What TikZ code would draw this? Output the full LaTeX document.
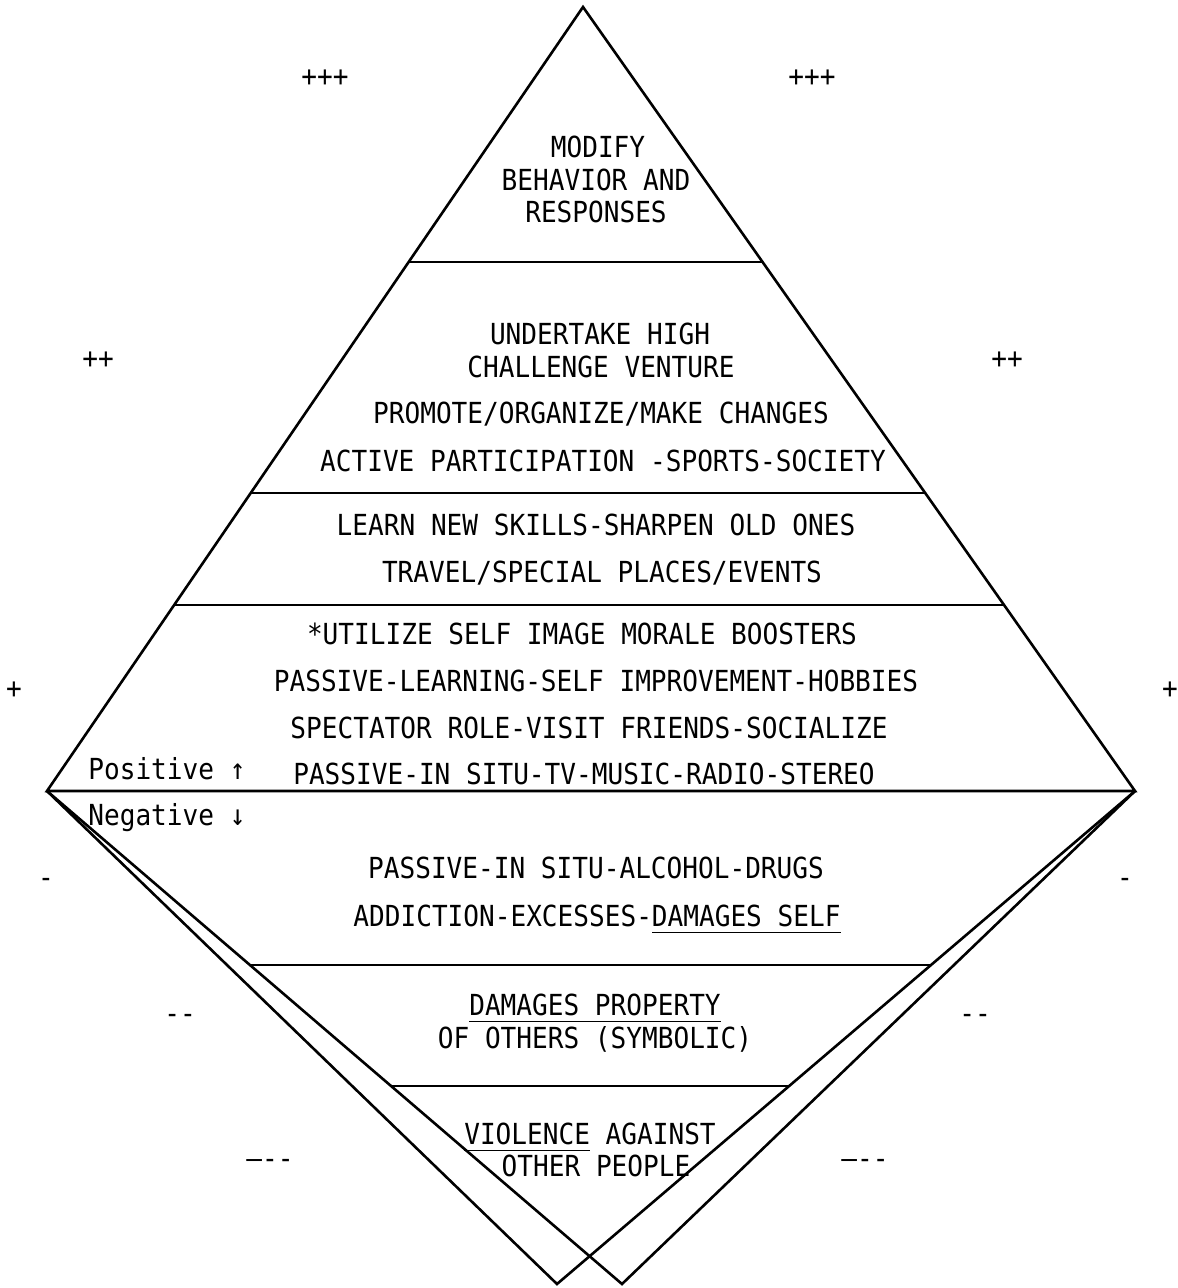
\documentclass[tikz,border=0pt]{standalone}
\usepackage{fontspec}
\newfontfamily\typefont[FakeStretch=0.9,Ligatures=TeXOff]{DejaVu Sans Mono}
\usetikzlibrary{positioning,calc}
\newcommand\lowline[1]{\underline{\rule[-1.8pt]{0pt}{0pt}#1}}
\tikzset{
  level/.style={font=\typefont\fontsize{14.5pt}{16pt}\selectfont, inner sep=0pt, anchor=base},
  sign/.style={level},
  tag/.style={level, anchor=base west},
  edge/.style={line width=1.3pt, line join=miter},
  divider/.style={line width=1.2pt},
}
\begin{document}
\begin{tikzpicture}[x=0.5pt,y=-0.5pt]
  \useasboundingbox (0,0) rectangle (1177,1288);
  % corners of the two pyramids
  \coordinate (apex) at (583,7);
  \coordinate (west) at (47,791);
  \coordinate (east) at (1135,791);
  \coordinate (foot1) at (557,1284);
  \coordinate (foot2) at (622,1284);
  \draw[edge] (west) -- (apex) -- (east) -- cycle;
  \draw[edge] (west) -- (foot1) -- (east);
  \draw[edge] (west) -- (foot2) -- (east);
  % levels
  \foreach \t in {0.3253,0.620,0.763}
    \draw[divider] ($(apex)!\t!(west)$) -- ($(apex)!\t!(east)$);
  \foreach \t in {0.353,0.598}
    \draw[divider] ($(west)!\t!(foot2)$) -- ($(east)!\t!(foot1)$);
  % side marks
  \node[sign] (plusAl) at (325,87) {+++};
  \node[sign] (plusAr) at (812,87) {+++};
  \node[sign] (plusBl) at (98,369) {++};
  \node[sign] (plusBr) at (1007,369) {++};
  \node[sign] (plusCl) at (14,698) {+};
  \node[sign] (plusCr) at (1170,698) {+};
  \node[sign] (minusAl) at (46,887) {-};
  \node[sign] (minusAr) at (1125,887) {-};
  \node[sign] (minusBl) at (180,1023) {--};
  \node[sign] (minusBr) at (975,1023) {--};
  \node[sign] (minusCl) at (270,1168) {—--};
  \node[sign] (minusCr) at (865,1168) {—--};
  % positive levels
  \node[level] (modifyA) at (598,158) {MODIFY};
  \node[level] (modifyB) at (596,191) {BEHAVIOR AND};
  \node[level] (modifyC) at (596,223) {RESPONSES};
  \node[level] (ventureA) at (600,345) {UNDERTAKE HIGH};
  \node[level] (ventureB) at (601,378) {CHALLENGE VENTURE};
  \node[level] (promote) at (601,423) {PROMOTE/ORGANIZE/MAKE CHANGES};
  \node[level] (active) at (603,471) {ACTIVE PARTICIPATION -SPORTS-SOCIETY};
  \node[level] (learn) at (596,535) {LEARN NEW SKILLS-SHARPEN OLD ONES};
  \node[level] (travel) at (602,582) {TRAVEL/SPECIAL PLACES/EVENTS};
  \node[level] (utilize) at (582,644) {*UTILIZE SELF IMAGE MORALE BOOSTERS};
  \node[level] (hobbies) at (596,691) {PASSIVE-LEARNING-SELF IMPROVEMENT-HOBBIES};
  \node[level] (spectator) at (589,738) {SPECTATOR ROLE-VISIT FRIENDS-SOCIALIZE};
  \node[level] (stereo) at (584,784) {PASSIVE-IN SITU-TV-MUSIC-RADIO-STEREO};
  \node[tag] (positive) at (88,779) {Positive ↑};
  % negative levels
  \node[tag] (negative) at (88,825) {Negative ↓};
  \node[level] (drugs) at (596,878) {PASSIVE-IN SITU-ALCOHOL-DRUGS};
  \node[level] (addiction) at (597,926) {ADDICTION-EXCESSES-\lowline{DAMAGES SELF}};
  \node[level] (propertyA) at (595,1015) {\lowline{DAMAGES PROPERTY}};
  \node[level] (propertyB) at (595,1048) {OF OTHERS (SYMBOLIC)};
  \node[level] (violenceA) at (590,1144) {\lowline{VIOLENCE} AGAINST};
  \node[level] (violenceB) at (596,1176) {OTHER PEOPLE};
\end{tikzpicture}
\end{document}
